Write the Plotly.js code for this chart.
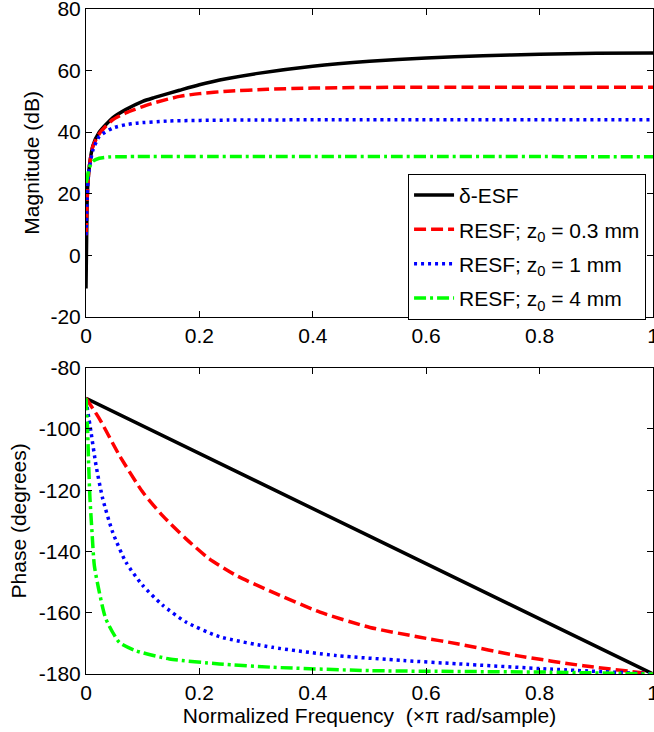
<!DOCTYPE html>
<html>
<head>
<meta charset="utf-8">
<script src="https://cdn.plot.ly/plotly-3.0.1.min.js"></script>
<style>html,body{margin:0;padding:0;background:#fff;}#chart{width:654px;height:732px;}</style>
</head>
<body>
<div id="chart"></div>
<script>
// ---- Magnitude (dB) ----
const magFreqEsf = [0, 0.0018, 0.0035, 0.006, 0.012, 0.0235, 0.047, 0.07, 0.1, 0.12, 0.165, 0.2, 0.25, 0.3, 0.4, 0.5, 0.6, 0.7, 0.8, 0.9, 1.0];
const magEsf     = [-10.8, 16, 24, 29, 35.5, 40, 44.6, 47.3, 50, 51.2, 53.6, 55.4, 57.4, 59, 61.4, 63, 64.1, 64.8, 65.3, 65.6, 65.7];
const magFreqR03 = [0, 0.002, 0.0035, 0.006, 0.012, 0.0235, 0.047, 0.07, 0.1, 0.12, 0.165, 0.2, 0.25, 0.32, 0.4, 0.5, 0.7, 1.0];
const magR03     = [6.5, 18, 24, 29, 35.3, 39.5, 44, 46.2, 48.3, 49.5, 51.6, 52.5, 53.3, 53.9, 54.3, 54.5, 54.6, 54.6];
const magFreqR1  = [0, 0.002, 0.0035, 0.006, 0.012, 0.0235, 0.047, 0.07, 0.088, 0.147, 0.25, 0.5, 1.0];
const magR1      = [6.5, 18, 24, 28.5, 34, 38.6, 41.3, 42.4, 42.9, 43.6, 43.9, 44, 44];
const magFreqR4  = [0, 0.002, 0.0035, 0.006, 0.012, 0.0235, 0.04, 0.06, 1.0];
const magR4      = [23.5, 24.8, 26.5, 28.5, 30.5, 31.5, 31.9, 32, 32];

// ---- Phase (degrees) ----
const phFreqEsf = [0, 0.5, 1.0];
const phEsf     = [-90, -135, -180];
const phFreqR03 = [0, 0.0235, 0.0588, 0.1, 0.135, 0.176, 0.2175, 0.2646, 0.329, 0.4127, 0.5009, 0.589, 0.657, 0.76, 0.877, 1.0];
const phR03     = [-90, -96.6, -108.6, -120.6, -128.3, -135.8, -142.4, -147.8, -153.3, -159.8, -164.8, -168, -170.2, -174, -177.3, -180];
const phFreqR1  = [0, 0.0088, 0.0176, 0.0294, 0.047, 0.0705, 0.1, 0.135, 0.176, 0.235, 0.329, 0.442, 0.56, 0.657, 0.818, 1.0];
const phR1      = [-90.5, -101, -111.8, -122.7, -133.7, -143.5, -151.1, -157.5, -163, -167.8, -171.3, -174, -175.6, -176.7, -178.4, -180];
const phFreqR4  = [0, 0.003, 0.0047, 0.007, 0.0106, 0.0147, 0.0235, 0.035, 0.059, 0.088, 0.147, 0.235, 0.329, 0.5, 0.818, 1.0];
const phR4      = [-90, -101, -111.8, -122.7, -133.7, -144.6, -153.3, -162, -169.7, -172.4, -175.1, -176.7, -177.8, -178.9, -179.4, -180];

const seriesNames = ['\u03b4-ESF', 'RESF; z<sub>0</sub> = 0.3 mm', 'RESF; z<sub>0</sub> = 1 mm', 'RESF; z<sub>0</sub> = 4 mm'];
const xTickVals = [0, 0.2, 0.4, 0.6, 0.8, 1];
const xTickText = ['0', '0.2', '0.4', '0.6', '0.8', '1'];
const magTickVals = [-20, 0, 20, 40, 60, 80];
const magTickText = ['-20', '0', '20', '40', '60', '80'];
const phTickVals = [-180, -160, -140, -120, -100, -80];
const phTickText = ['-180', '-160', '-140', '-120', '-100', '-80'];

const styles = [
  {color: '#000000', width: 3.5, dash: 'solid'},
  {color: '#ff0000', width: 3.5, dash: '12px,5px'},
  {color: '#0000ff', width: 3.5, dash: '3px,4px'},
  {color: '#00ff00', width: 3.5, dash: '12px,4px,3px,4px'}
];

const magX = [magFreqEsf, magFreqR03, magFreqR1, magFreqR4];
const magY = [magEsf, magR03, magR1, magR4];
const phX = [phFreqEsf, phFreqR03, phFreqR1, phFreqR4];
const phY = [phEsf, phR03, phR1, phR4];

const traces = [];
for (let i = 0; i < 4; i++) {
  traces.push({x: magX[i], y: magY[i], type: 'scatter', mode: 'lines', name: seriesNames[i], legendgroup: 'g' + i,
    line: Object.assign({shape: 'spline', smoothing: 0.6}, styles[i]), xaxis: 'x', yaxis: 'y', showlegend: true});
}
for (let i = 0; i < 4; i++) {
  traces.push({x: phX[i], y: phY[i], type: 'scatter', mode: 'lines', name: seriesNames[i], legendgroup: 'g' + i,
    line: Object.assign({shape: 'spline', smoothing: 0.6}, styles[i]), xaxis: 'x2', yaxis: 'y2', showlegend: false});
}

const FONT = 'Liberation Sans, Arial, sans-serif';
const axisBase = {
  showgrid: false, zeroline: false, showline: true, linecolor: '#000', linewidth: 1,
  mirror: 'ticks', ticks: 'inside', ticklen: 6, tickcolor: '#000', tickwidth: 1,
  ticklabeloverflow: 'allow',
  tickfont: {family: FONT, size: 21, color: '#000'}
};

const layout = {
  width: 654, height: 732,
  margin: {l: 86, r: 1, t: 9, b: 58},
  paper_bgcolor: '#fff', plot_bgcolor: '#fff',
  font: {family: FONT, size: 21, color: '#000'},
  showlegend: true,
  legend: {
    x: 0.568, y: 0.752, xanchor: 'left', yanchor: 'top',
    bgcolor: '#fff', bordercolor: '#000', borderwidth: 1,
    font: {family: FONT, size: 21, color: '#000'},
    tracegroupgap: 4, itemwidth: 40
  },
  xaxis: Object.assign({}, axisBase, {domain: [0, 1], range: [0, 1], anchor: 'y', tickvals: xTickVals, ticktext: xTickText}),
  yaxis: Object.assign({}, axisBase, {domain: [0.5373, 1], range: [-20, 80], anchor: 'x', tickvals: magTickVals, ticktext: magTickText,
    title: {text: 'Magnitude (dB)', font: {family: FONT, size: 21, color: '#000'}, standoff: 5}}),
  xaxis2: Object.assign({}, axisBase, {domain: [0, 1], range: [0, 1], anchor: 'y2', tickvals: xTickVals, ticktext: xTickText,
    title: {text: 'Normalized Frequency \u00a0(\u00d7\u03c0 rad/sample)', font: {family: FONT, size: 21, color: '#000'}, standoff: 3}}),
  yaxis2: Object.assign({}, axisBase, {domain: [0, 0.4606], range: [-180, -80], anchor: 'x2', tickvals: phTickVals, ticktext: phTickText,
    title: {text: 'Phase (degrees)', font: {family: FONT, size: 21, color: '#000'}, standoff: 6}})
};

Plotly.newPlot('chart', traces, layout, {displayModeBar: false, staticPlot: true});
</script>
</body>
</html>
